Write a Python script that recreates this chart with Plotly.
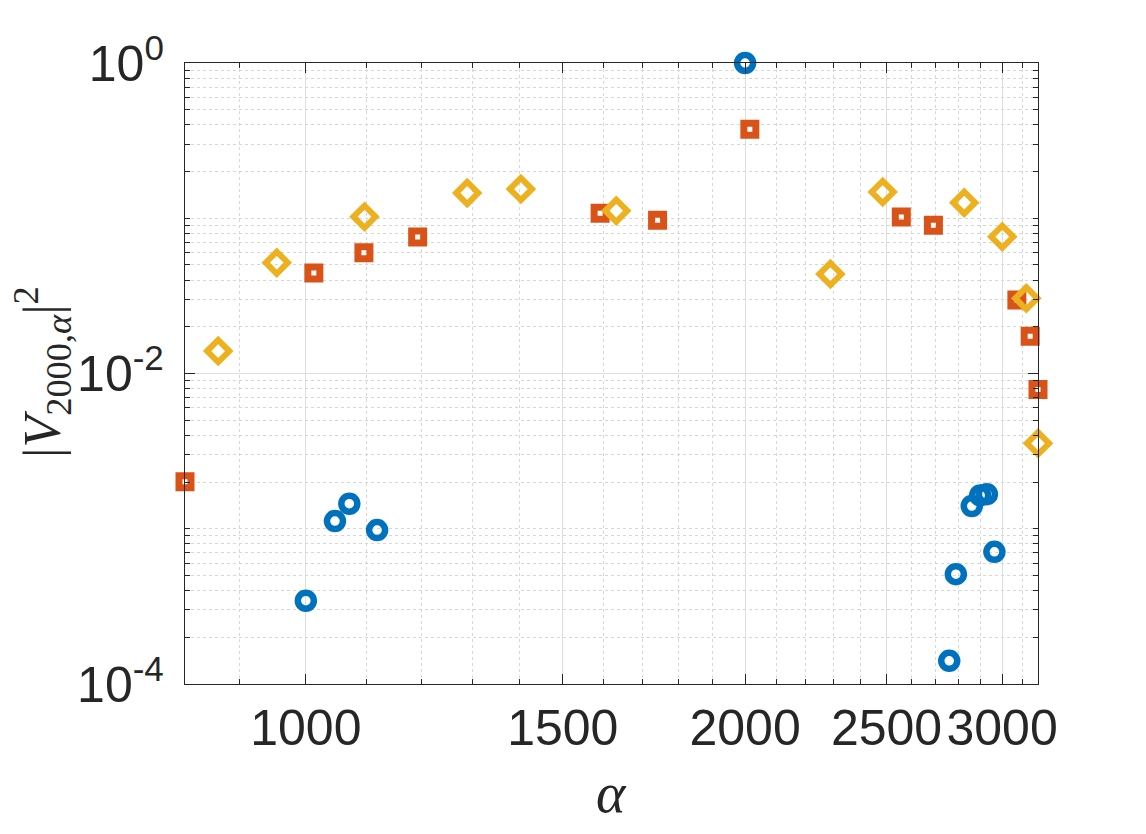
import math
import plotly.graph_objects as go

# ---- data ----
x_blue = [1000, 1047, 1071, 1119, 2000, 2760, 2789, 2860, 2898, 2929, 2964]
y_blue = [3.44e-4, 1.12e-3, 1.45e-3, 9.8e-4, 1.0, 1.41e-4, 5.1e-4, 1.40e-3, 1.64e-3, 1.67e-3, 7.1e-4]

x_red = [826.4, 1012.7, 1096, 1193, 1591, 1742, 2015, 2559, 2692, 3071, 3136, 3175]
y_red = [2.01e-3, 0.0444, 0.060, 0.0757, 0.1076, 0.097, 0.374, 0.1019, 0.0901, 0.0298, 0.0174, 7.9e-3]

x_yel = [870.8, 955.2, 1097, 1290, 1404, 1632, 2288, 2485, 2826, 3001, 3117, 3175]
y_yel = [0.01396, 0.0517, 0.1023, 0.1455, 0.1543, 0.1118, 0.0437, 0.1476, 0.126, 0.076, 0.0305, 3.55e-3]

x_ticks = [1000, 1500, 2000, 2500, 3000]
x_ticklabels = ["1000", "1500", "2000", "2500", "3000"]
y_ticks = [1e-4, 1e-2, 1e0]
y_ticklabels = ["10<sup>-4</sup>", "10<sup>-2</sup>", "10<sup>0</sup>"]

# ---- styling ----
AX = "#262626"
FONT = "Liberation Sans, Arial, Helvetica, sans-serif"
SERIF = "Liberation Serif, Times New Roman, serif"

all_x = x_blue + x_red + x_yel
xmin, xmax = min(all_x), max(all_x)

x_minor = [v for v in range(900, 3200, 100) if v not in x_ticks and xmin <= v <= xmax]
y_minor = [k * 10.0 ** n for n in range(-4, 0) for k in range(1, 10)]
y_minor = [v for v in y_minor if not any(abs(v - t) / t < 1e-9 for t in y_ticks)]

fig = go.Figure()
fig.add_trace(go.Scatter(
    x=x_blue, y=y_blue, mode="markers", cliponaxis=False,
    marker=dict(symbol="circle-open", size=16, color="#0072BD",
                line=dict(width=6.5, color="#0072BD")),
))
fig.add_trace(go.Scatter(
    x=x_red, y=y_red, mode="markers", cliponaxis=False,
    marker=dict(symbol="square-open", size=12, color="#D95319",
                line=dict(width=7, color="#D95319")),
))
fig.add_trace(go.Scatter(
    x=x_yel, y=y_yel, mode="markers", cliponaxis=False,
    marker=dict(symbol="diamond-open", size=17, color="#EDB120",
                line=dict(width=6, color="#EDB120")),
))

axis_common = dict(
    showline=True, linecolor=AX, linewidth=1.3, mirror="ticks",
    ticks="inside", ticklen=10, tickwidth=1.3, tickcolor=AX,
    showgrid=True, gridcolor="#dedede", gridwidth=1,
    zeroline=False,
    tickfont=dict(family=FONT, size=50, color=AX),
)

fig.update_xaxes(
    type="log",
    range=[math.log10(xmin), math.log10(xmax)],
    tickmode="array", tickvals=x_ticks, ticktext=x_ticklabels,
    minor=dict(tickmode="array", tickvals=x_minor, ticks="inside", ticklen=5,
               tickwidth=1, tickcolor=AX, showgrid=True, gridcolor="#d6d6d6",
               gridwidth=1, griddash="dot"),
    **axis_common,
)
fig.update_yaxes(
    type="log",
    range=[-4, 0],
    tickmode="array", tickvals=y_ticks, ticktext=y_ticklabels,
    minor=dict(tickmode="array", tickvals=y_minor, ticks="inside", ticklen=5,
               tickwidth=1, tickcolor=AX, showgrid=True, gridcolor="#d6d6d6",
               gridwidth=1, griddash="dot"),
    ticklabelstandoff=10,
    **axis_common,
)

fig.add_annotation(
    text="<i>α</i>", xref="paper", yref="paper",
    x=(611 - 185) / 853, y=(684 - 793) / 621,
    xanchor="center", yanchor="middle", showarrow=False,
    font=dict(family=SERIF, size=56, color=AX),
)
fig.add_annotation(
    text="|<i>V</i><sub>2000,<i>α</i></sub>|<sup>2</sup>", xref="paper", yref="paper",
    x=(42 - 185) / 853, y=(684 - 372) / 621,
    xanchor="center", yanchor="middle", showarrow=False, textangle=-90,
    font=dict(family=SERIF, size=52, color=AX),
)

fig.update_layout(
    width=1146, height=834,
    margin=dict(l=185, r=108, t=63, b=150, pad=0),
    paper_bgcolor="white", plot_bgcolor="white",
    showlegend=False,
)

fig.write_html("out.html")
